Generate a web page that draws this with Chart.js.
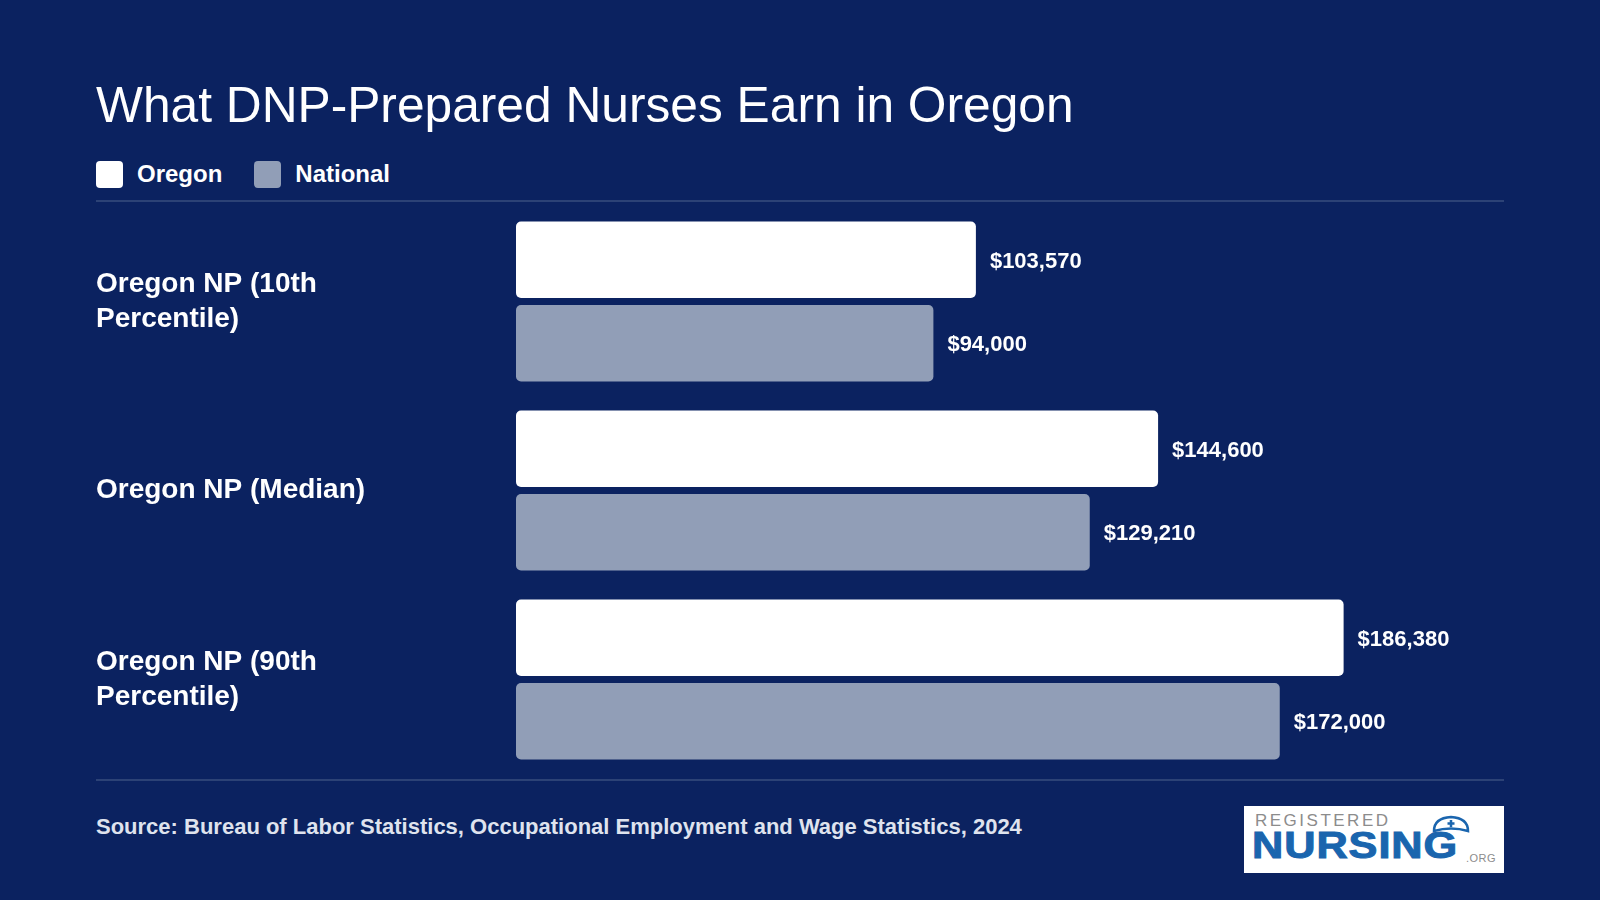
<!DOCTYPE html>
<html>
<head>
<meta charset="utf-8">
<title>What DNP-Prepared Nurses Earn in Oregon</title>
<script src="https://cdn.jsdelivr.net/npm/chart.js@4.4.1/dist/chart.umd.min.js"></script>
<style>
  html, body { margin: 0; padding: 0; }
  body {
    width: 1600px; height: 900px; overflow: hidden; position: relative;
    background: #0b2260; color: #fff;
    font-family: 'Liberation Sans', Arial, Helvetica, sans-serif;
  }
  .title { position: absolute; left: 96px; top: 80px; font-size: 49.7px; line-height: 50px; white-space: nowrap; }
  .legend { position: absolute; left: 96px; top: 161px; display: flex; }
  .legend-item { display: flex; align-items: center; margin-right: 32px; height: 27px; }
  .legend-box { width: 27px; height: 27px; border-radius: 4px; margin-right: 14px; }
  .legend-text { font-size: 24px; font-weight: bold; line-height: 27px; position: relative; top: -1px; }
  .rule { position: absolute; left: 96px; width: 1408px; height: 2px; background: #2c4276; }
  .chart-wrap { position: absolute; left: 0; top: 202px; width: 1600px; height: 578px; }
  .source { position: absolute; left: 96px; top: 816px; font-size: 22px; line-height: 22px; font-weight: bold; color: #dfe3ee; white-space: nowrap; }
  .logo { position: absolute; left: 1244px; top: 806px; width: 260px; height: 67px; background: #fff; overflow: hidden; }
  .logo .reg { position: absolute; left: 11px; top: 5px; font-size: 17px; letter-spacing: 2.5px; color: #8c8c8c; }
  .logo .nur {
    position: absolute; left: 8px; top: 19px; font-size: 37px; font-weight: bold; letter-spacing: 0.8px;
    color: #1a65ae; -webkit-text-stroke: 1px #1a65ae; transform: scaleX(1.17); transform-origin: left top;
  }
  .logo .org { position: absolute; left: 222px; top: 46px; font-size: 11px; color: #8c8c8c; letter-spacing: 0.5px; }
  .logo svg { position: absolute; left: 187px; top: 9px; }
</style>
</head>
<body>
<div class="title">What DNP-Prepared Nurses Earn in Oregon</div>
<div class="legend" id="legend"></div>
<div class="rule" style="top:200px"></div>
<div class="chart-wrap"><canvas id="payChart"></canvas></div>
<div class="rule" style="top:779px"></div>
<div class="source">Source: Bureau of Labor Statistics, Occupational Employment and Wage Statistics, 2024</div>
<div class="logo">
  <span class="reg">REGISTERED</span>
  <span class="nur">NURSING</span>
  <svg width="40" height="18" viewBox="0 0 40 18">
    <path d="M3 16 Q3 3 20 2 Q37 3 37 16 Q20 11 3 16 Z" fill="#fff" stroke="#1a65ae" stroke-width="2.5"/>
    <path d="M20 5 V12 M16.5 8.5 H23.5" stroke="#1a65ae" stroke-width="2.5"/>
  </svg>
  <span class="org">.ORG</span>
</div>

<script>
// ---- data ----
const categories = [
  ['Oregon NP (10th', 'Percentile)'],
  'Oregon NP (Median)',
  ['Oregon NP (90th', 'Percentile)']
];
const oregonPay = [103570, 144600, 186380];
const nationalPay = [94000, 129210, 172000];
const seriesNames = ['Oregon', 'National'];

const colors = {
  bg: '#0b2260',
  oregon: '#ffffff',
  national: '#919eb7',
  text: '#ffffff'
};
const fontFamily = "'Liberation Sans', Arial, Helvetica, sans-serif";

// value labels at the end of each bar
const valueLabels = {
  id: 'valueLabels',
  afterDatasetsDraw(chart) {
    const ctx = chart.ctx;
    ctx.save();
    ctx.font = 'bold 22px ' + fontFamily;
    ctx.fillStyle = colors.text;
    ctx.textBaseline = 'middle';
    chart.data.datasets.forEach((ds, i) => {
      chart.getDatasetMeta(i).data.forEach((bar, j) => {
        ctx.fillText('$' + ds.data[j].toLocaleString('en-US'), bar.x + 14, bar.y + 2);
      });
    });
    ctx.restore();
  }
};

const ctx = document.getElementById('payChart').getContext('2d');
const payChart = new Chart(ctx, {
  type: 'bar',
  data: {
    labels: categories,
    datasets: [
      {
        label: seriesNames[0],
        data: oregonPay,
        backgroundColor: colors.oregon,
        borderRadius: 5,
        borderSkipped: false,
        categoryPercentage: 0.885,
        barPercentage: 0.915
      },
      {
        label: seriesNames[1],
        data: nationalPay,
        backgroundColor: colors.national,
        borderRadius: 5,
        borderSkipped: false,
        categoryPercentage: 0.885,
        barPercentage: 0.915
      }
    ]
  },
  options: {
    indexAxis: 'y',
    responsive: true,
    maintainAspectRatio: false,
    animation: false,
    layout: {
      padding: { left: 96, right: 96, top: 5, bottom: 6 }
    },
    scales: {
      x: {
        display: false,
        min: 0,
        max: 222500
      },
      y: {
        grid: { display: false },
        border: { display: false },
        ticks: {
          color: colors.text,
          crossAlign: 'far',
          padding: 0,
          font: { family: fontFamily, size: 28, weight: 'bold', lineHeight: 1.24 }
        },
        afterFit(scale) {
          // fixed label column, and no extra room for the tall two-line labels
          scale.width = 420;
          scale.paddingTop = 0;
          scale.paddingBottom = 0;
        }
      }
    },
    plugins: {
      legend: { display: false },
      tooltip: { enabled: false }
    }
  },
  plugins: [valueLabels]
});

// html legend from the datasets
const legendEl = document.getElementById('legend');
payChart.data.datasets.forEach(ds => {
  const item = document.createElement('div');
  item.className = 'legend-item';
  const box = document.createElement('span');
  box.className = 'legend-box';
  box.style.background = ds.backgroundColor;
  const txt = document.createElement('span');
  txt.className = 'legend-text';
  txt.textContent = ds.label;
  item.appendChild(box);
  item.appendChild(txt);
  legendEl.appendChild(item);
});
</script>
</body>
</html>
